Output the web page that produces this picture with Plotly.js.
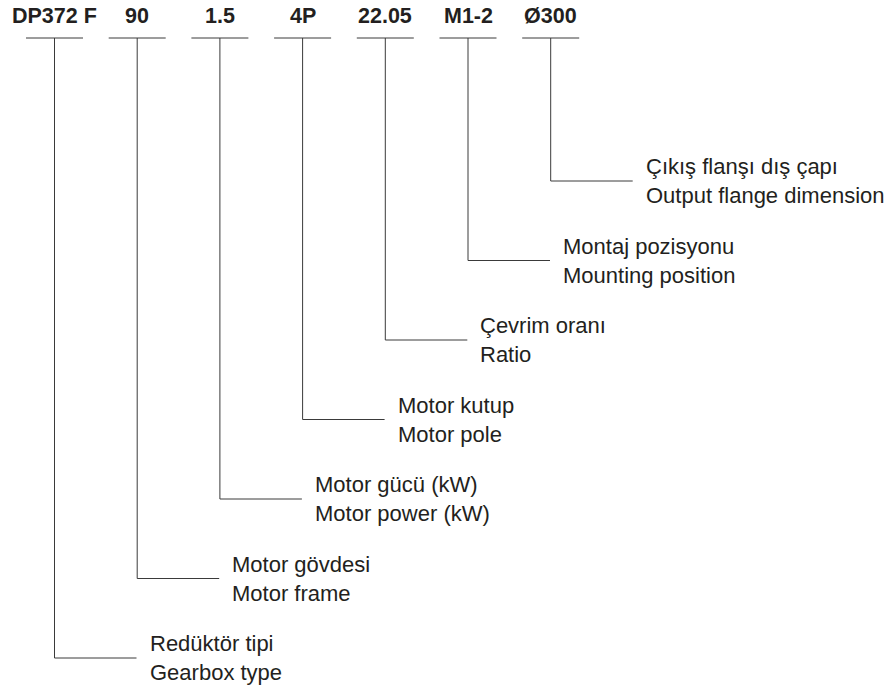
<!DOCTYPE html>
<html>
<head>
<meta charset="utf-8">
<script src="https://cdn.plot.ly/plotly-3.0.1.min.js"></script>
<style>html,body{margin:0;padding:0;background:#fff;}#chart{width:889px;height:691px;}</style>
</head>
<body>
<div id="chart"></div>
<script>
// Data
var codes = ["DP372 F", "90", "1.5", "4P", "22.05", "M1-2", "Ø300"];
var labelsTr = ["Redüktör tipi", "Motor gövdesi", "Motor gücü (kW)", "Motor kutup", "Çevrim oranı", "Montaj pozisyonu", "Çıkış flanşı dış çapı"];
var labelsEn = ["Gearbox type", "Motor frame", "Motor power (kW)", "Motor pole", "Ratio", "Mounting position", "Output flange dimension"];

// Layout constants (pixel space)
var X0 = 54.5, DX = 82.7;       // vertical line positions
var TOPY = 38, HALF = 28.5;      // top underline
var CODEY = 16;                  // code text centre
var ELB0 = 658, DY = 79.5;       // elbow heights
var ARM = 82, GAP = 11;          // horizontal arm and text gap
var FONT = "Liberation Sans, Arial, Helvetica, sans-serif";

var lx = [], ly = [], ann = [];
codes.forEach(function (c, i) {
  var x = X0 + i * DX;
  var ey = ELB0 - i * DY;
  lx.push(x - HALF, x + HALF, null, x, x, x + ARM, null);
  ly.push(TOPY, TOPY, null, TOPY, ey, ey, null);
  ann.push({x: x, y: CODEY, xref: 'x', yref: 'y', text: '<b>' + c + '</b>', showarrow: false,
    xanchor: 'center', yanchor: 'middle', font: {family: FONT, size: 21.5, color: '#231f20'}});
  ann.push({x: x + ARM + GAP, y: ey, xref: 'x', yref: 'y', text: labelsTr[i] + '<br>' + labelsEn[i],
    showarrow: false, xanchor: 'left', yanchor: 'middle', align: 'left',
    font: {family: FONT, size: 22, color: '#231f20'}});
});

var trace = {x: lx, y: ly, mode: 'lines', line: {color: '#3a3a3a', width: 1}, hoverinfo: 'skip', type: 'scatter'};

var layout = {
  width: 889, height: 691,
  margin: {l: 0, r: 0, t: 0, b: 0},
  paper_bgcolor: '#fff', plot_bgcolor: '#fff',
  showlegend: false,
  xaxis: {range: [0, 889], visible: false, fixedrange: true},
  yaxis: {range: [691, 0], visible: false, fixedrange: true},
  annotations: ann
};
Plotly.newPlot('chart', [trace], layout, {staticPlot: true, displayModeBar: false});
</script>
</body>
</html>
